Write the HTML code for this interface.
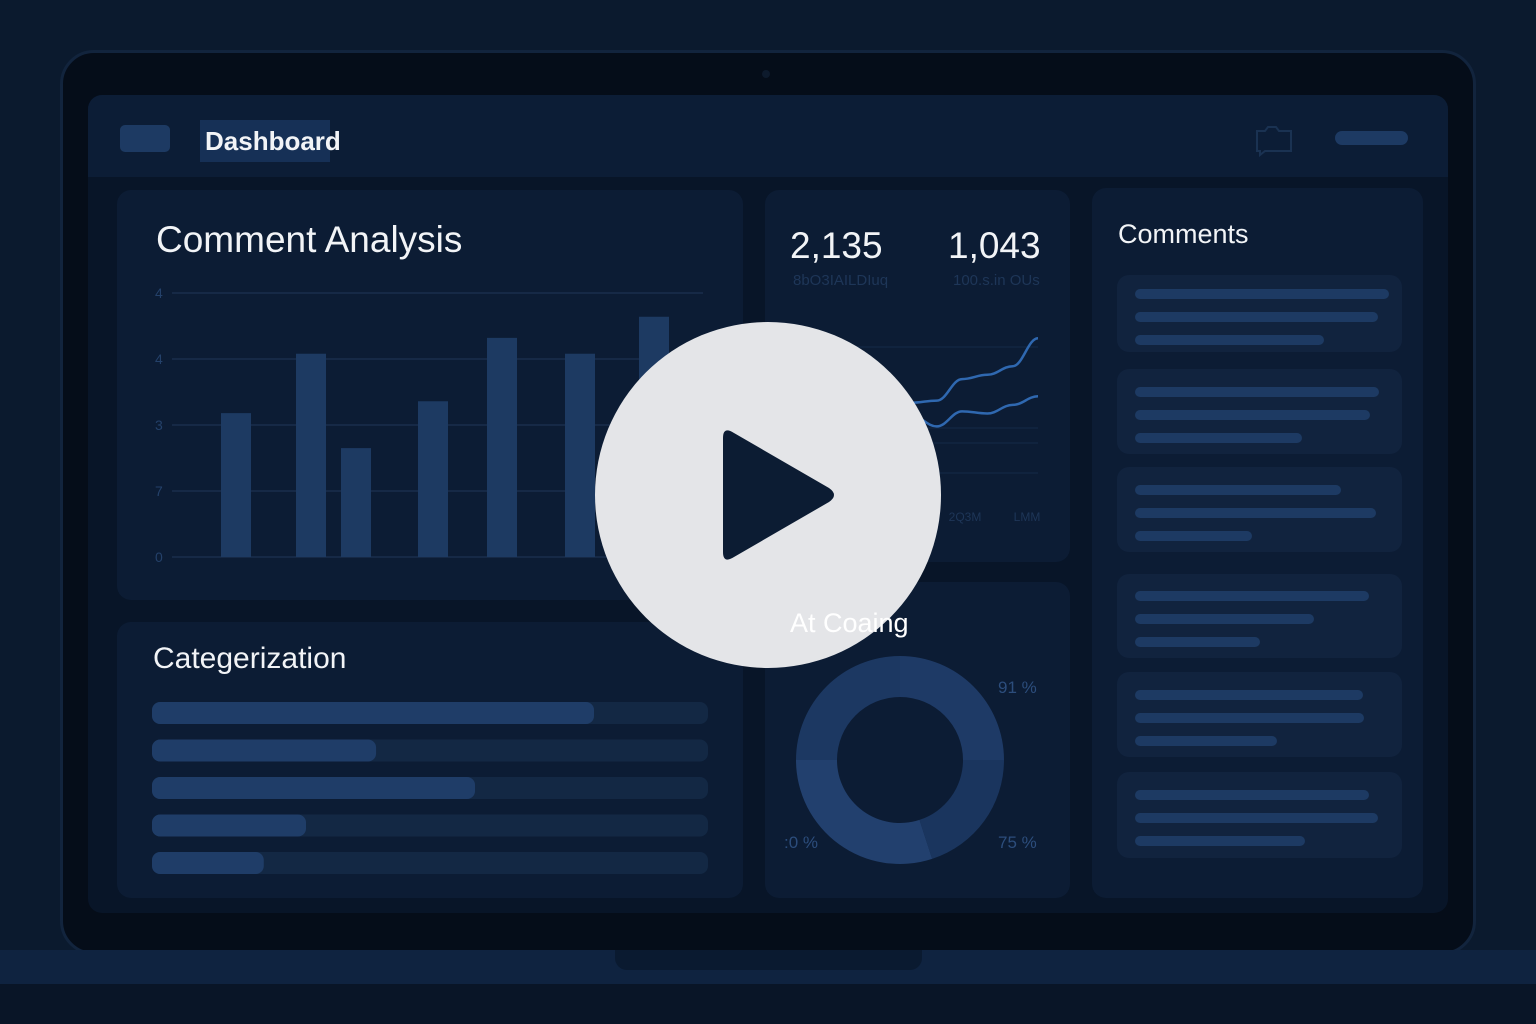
<!DOCTYPE html>
<html><head><meta charset="utf-8"><style>
body{margin:0;width:1536px;height:1024px;background:#0b1a2e;overflow:hidden;position:relative;font-family:"Liberation Sans",sans-serif}
.a{position:absolute}
.panel{position:absolute;background:#0c1c34;border-radius:14px}
.t{position:absolute;color:#f2f4f7;white-space:nowrap}
</style></head><body>
<div class="a" style="left:60px;top:50px;width:1416px;height:905px;border-radius:34px;background:#050d19;border:3px solid #12243d;box-sizing:border-box"></div>
<div class="a" style="left:762px;top:70px;width:8px;height:8px;border-radius:50%;background:#0d1a2c"></div>
<div class="a" style="left:0;top:950px;width:1536px;height:34px;background:#0f2340"></div>
<div class="a" style="left:0;top:984px;width:1536px;height:40px;background:#091527"></div>
<div class="a" style="left:615px;top:950px;width:307px;height:20px;border-radius:0 0 12px 12px;background:#0a1a30"></div>
<div class="a" style="left:88px;top:95px;width:1360px;height:818px;border-radius:14px;background:#081528;overflow:hidden">
 <div class="a" style="left:0;top:0;width:1360px;height:82px;background:#0c1d36"></div>
</div>
<div class="a" style="left:120px;top:125px;width:50px;height:27px;border-radius:5px;background:#1d3a63"></div>
<div class="a" style="left:200px;top:120px;width:130px;height:42px;background:#163056"></div>
<div class="t" style="left:205px;top:126px;font-size:26px;font-weight:bold">Dashboard</div>
<svg class="a" style="left:1255px;top:125px" width="40" height="32"><path d="M2 6h8l3-4h8l3 4h12v20H10l-5 4v-4H2z" fill="none" stroke="#1a3252" stroke-width="2"/></svg>
<div class="a" style="left:1335px;top:131px;width:73px;height:14px;border-radius:7px;background:#1d3a63"></div>

<div class="panel" style="left:117px;top:190px;width:626px;height:410px"></div>
<div class="t" style="left:156px;top:219px;font-size:37px">Comment Analysis</div>
<svg class="a" id="bars" style="left:0;top:0" width="760" height="600"></svg>

<div class="panel" style="left:117px;top:622px;width:626px;height:276px"></div>
<div class="t" style="left:153px;top:642px;font-size:30px">Categerization</div>
<svg class="a" id="cats" style="left:0;top:0" width="760" height="900"></svg>

<div class="panel" style="left:765px;top:190px;width:305px;height:372px"></div>
<div class="t" style="left:790px;top:225px;font-size:37px">2,135</div>
<div class="t" style="left:948px;top:225px;font-size:37px">1,043</div>
<div class="t" style="left:793px;top:272px;font-size:15px;color:#1e3658">8bO3IAILDIuq</div>
<div class="t" style="left:953px;top:272px;font-size:15px;color:#1e3658">100.s.in OUs</div>
<svg class="a" id="lines" style="left:0;top:0" width="1080" height="560"></svg>

<div class="panel" style="left:765px;top:582px;width:305px;height:316px"></div>
<svg class="a" id="donut" style="left:0;top:0" width="1080" height="900"></svg>
<div class="t" style="left:998px;top:678px;font-size:17px;color:#2c4d7c">91 %</div>
<div class="t" style="left:784px;top:833px;font-size:17px;color:#2c4d7c">:0 %</div>
<div class="t" style="left:998px;top:833px;font-size:17px;color:#2c4d7c">75 %</div>

<div class="panel" style="left:1092px;top:188px;width:331px;height:710px"></div>
<div class="t" style="left:1118px;top:219px;font-size:27px">Comments</div>
<div id="cards"></div>

<svg class="a" style="left:594px;top:322px" width="348" height="348">
 <circle cx="174" cy="173" r="173" fill="#e4e5e8"/>
 <path d="M129 116 Q129 104 140 111 L235 166 Q245 173 235 180 L140 235 Q129 242 129 230 Z" fill="#0c1c33"/>
</svg>
<div class="t" style="left:790px;top:608px;font-size:27px;color:#ffffff">At Coaing</div>

<script>
const NS="http://www.w3.org/2000/svg";
function mk(p,tag,at){const e=document.createElementNS(NS,tag);for(const k in at)e.setAttribute(k,at[k]);p.appendChild(e);return e;}
const barValues=[2.18,3.08,1.65,2.36,3.32,3.08,3.64];
const barCenters=[236,311,356,433,502,580,654];
const yTicks=[0,1,2,3,4];
const yTickLabels=["0","7","3","4","4"];
const yB=v=>557-66*v;
const bs=document.getElementById('bars');
yTicks.forEach((t,i)=>{
 const l=mk(bs,'line',{x1:172,x2:703,y1:yB(t),y2:yB(t),stroke:'#1f3658','stroke-width':1});
 
 
 const tx=mk(bs,'text',{x:155,y:yB(t)+5,fill:'#24416a','font-size':14,'font-family':'Liberation Sans'});
 tx.textContent=yTickLabels[i];
 
 
});
barValues.forEach((v,i)=>{
 const r=mk(bs,'rect',{x:barCenters[i]-15,y:yB(v),width:30,height:557-yB(v),fill:'#1d3a62'});
 
 
});
const catFractions=[0.795,0.403,0.581,0.277,0.201];
const cs=document.getElementById('cats');
catFractions.forEach((f,i)=>{
 const y=702+37.5*i;
 const tr=mk(cs,'rect',{x:152,y:y,width:556,height:22,rx:8,fill:'#132844'});
 
 
 const b=mk(cs,'rect',{x:152,y:y,width:556*f,height:22,rx:8,fill:'#1f3d68'});
 
 
});
const lineX=[0,1,2,3,4,5,6,7,8,9,10];
const seriesA=[3.2,3.9,4.1,4.5,4.0,3.5,3.6,4.6,4.8,5.2,6.5];
const seriesB=[2.3,2.7,2.6,2.8,2.9,2.9,2.4,3.1,3.0,3.4,3.8];
const xL=i=>785+i*25.3, yL=v=>478-21.5*v;
const ls=document.getElementById('lines');
[347,428,443,473].forEach(y=>{const g=mk(ls,'line',{x1:785,x2:1038,y1:y,y2:y,stroke:'#142a48'});});
function path(s){let d='M'+xL(0)+' '+yL(s[0]);for(let i=1;i<s.length;i++){const x0=xL(i-1),x1=xL(i);d+=' C'+(x0+10)+' '+yL(s[i-1])+' '+(x1-10)+' '+yL(s[i])+' '+x1+' '+yL(s[i]);}return d;}
[seriesA,seriesB].forEach(s=>{const p=mk(ls,'path',{d:path(s),fill:'none',stroke:'#2f68b0','stroke-width':2.5});});
const xTickLabels=["6l","2Q3M","LMM"];
[792,965,1027].forEach((x,i)=>{const t=mk(ls,'text',{x:x,y:521,fill:'#1e3658','font-size':12,'text-anchor':'middle','font-family':'Liberation Sans'});t.textContent=xTickLabels[i];});
const donutValues=[25,20,30,25];
const donutColors=['#1e3a66','#1a355e','#22406e','#1c3862'];
const ds=document.getElementById('donut');
let acc=0;const tot=donutValues.reduce((a,b)=>a+b,0);
const cx=900,cy=760,R=104,r=63;
donutValues.forEach((v,i)=>{
 const a0=acc/tot*2*Math.PI-Math.PI/2;acc+=v;const a1=acc/tot*2*Math.PI-Math.PI/2;
 const lg=(a1-a0)>Math.PI?1:0;
 const P=(rr,a)=>(cx+rr*Math.cos(a))+' '+(cy+rr*Math.sin(a));
 const d='M'+P(R,a0)+' A'+R+' '+R+' 0 '+lg+' 1 '+P(R,a1)+' L'+P(r,a1)+' A'+r+' '+r+' 0 '+lg+' 0 '+P(r,a0)+' Z';
 const s=mk(ds,'path',{d:d,fill:donutColors[i]});
 
 
});
const cardTops=[275,369,467,574,672,772];
const cardHeights=[77,85,85,84,85,86];
const lineWidths=[[254,243,189],[244,235,167],[206,241,117],[234,179,125],[228,229,142],[234,243,170]];
const cc=document.getElementById('cards');
cardTops.forEach((t,i)=>{
 const c=document.createElement('div');c.className='a';
 
 
 c.style.cssText='left:1117px;top:'+t+'px;width:285px;height:'+cardHeights[i]+'px;border-radius:12px;background:#11233e';
 lineWidths[i].forEach((w,j)=>{const l=document.createElement('div');l.className='a';
  
  
  l.style.cssText='left:18px;top:'+(cardHeights[i]/2-25+j*23)+'px;width:'+w+'px;height:10px;border-radius:5px;background:#1d3a63';c.appendChild(l);});
 cc.appendChild(c);
});
</script>
</body></html>
